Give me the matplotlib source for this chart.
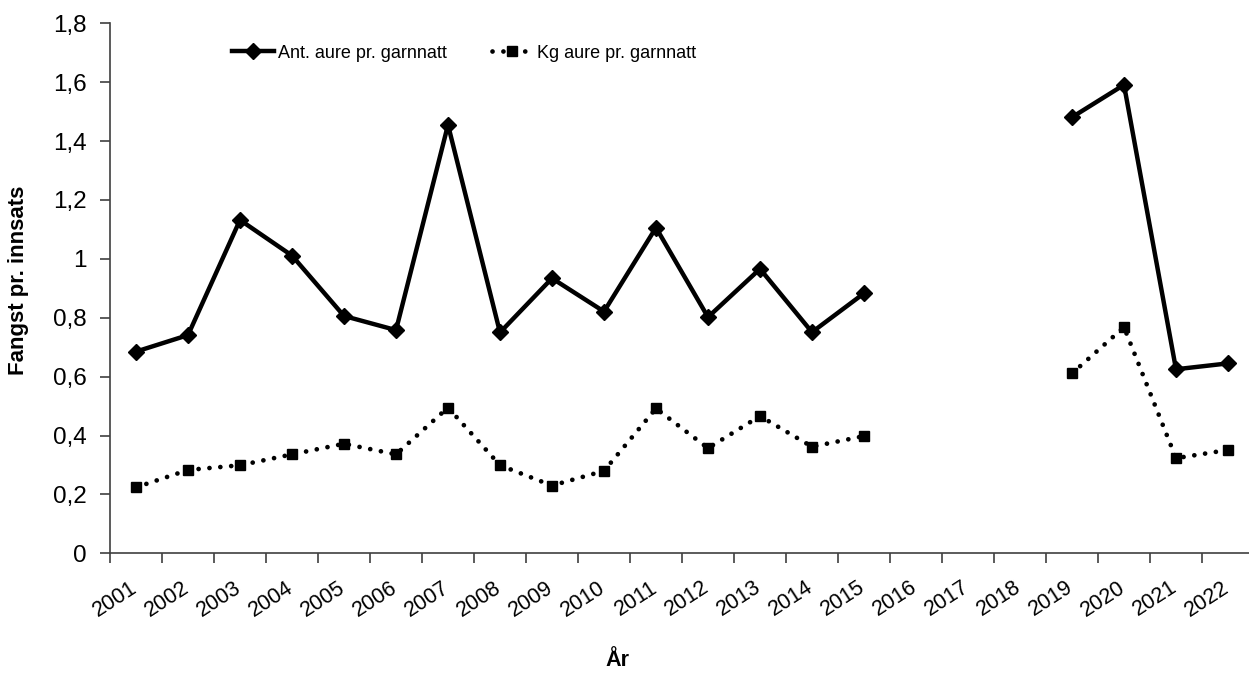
import numpy as np
import matplotlib
matplotlib.use('Agg')
import matplotlib.pyplot as plt

plt.rcParams['font.family'] = ['Liberation Sans', 'DejaVu Sans']

years = [str(y) for y in range(2001, 2023)]
ant = [0.685, 0.741, 1.132, 1.011, 0.806, 0.758, 1.455, 0.750, 0.934, 0.821, 1.106,
       0.802, 0.966, 0.751, 0.883, np.nan, np.nan, np.nan, 1.481, 1.591, 0.625, 0.645]
kg = [0.224, 0.283, 0.299, 0.336, 0.372, 0.336, 0.495, 0.299, 0.230, 0.280, 0.492,
      0.357, 0.466, 0.362, 0.398, np.nan, np.nan, np.nan, 0.611, 0.768, 0.323, 0.351]
yticks = [0, 0.2, 0.4, 0.6, 0.8, 1.0, 1.2, 1.4, 1.6, 1.8]
ytick_labels = ['0', '0,2', '0,4', '0,6', '0,8', '1', '1,2', '1,4', '1,6', '1,8']

W, H = 1249, 673
fig = plt.figure(figsize=(W / 100, H / 100), dpi=100)
ax = fig.add_axes([110 / W, (H - 553.3) / H, 1144 / W, 530 / H])

x = np.arange(len(years))
ax.plot(x, ant, color='black', lw=3.2, marker='D', markersize=8,
        label='Ant. aure pr. garnnatt')
ax.plot(x, kg, color='black', lw=3.4, linestyle=(0, (0.01, 2.3)),
        dash_capstyle='round', marker='s', markersize=7.5,
        label='Kg aure pr. garnnatt')

ax.set_xlim(-0.5, len(years) - 0.5)
ax.set_ylim(0, 1.8)
ax.set_yticks(yticks)
ax.set_yticklabels(ytick_labels, fontsize=17.5)

# boundaries get tick marks, centres (nudged a bit right) get the labels
ax.set_xticks(np.arange(len(years) + 1) - 0.5)
ax.set_xticklabels([])
ax.set_xticks(x + 0.1, minor=True)
ax.set_xticklabels(years, minor=True, fontsize=15.5, rotation=33,
                   ha='right', va='top')
ax.tick_params(axis='x', which='minor', length=0, pad=17)
ax.tick_params(axis='x', which='major', length=7, width=1.2, color='#404040')
ax.tick_params(axis='y', length=7, width=1.2, color='#404040', pad=10)

for s in ['top', 'right']:
    ax.spines[s].set_visible(False)
for s in ['left', 'bottom']:
    ax.spines[s].set_color('#404040')
    ax.spines[s].set_linewidth(1.2)

fig.text(19 / W, 1 - 280 / H, 'Fangst pr. innsats', rotation=90, fontsize=16,
         fontweight='bold', ha='center', va='center')
fig.text(617 / W, 1 - 660 / H, 'År', fontsize=15.5, fontweight='bold',
         ha='center', va='center')

ax.legend(loc='center left', bbox_to_anchor=(232 / W, 1 - 53 / H),
          bbox_transform=fig.transFigure, ncol=2, frameon=False,
          borderpad=0, borderaxespad=0,
          handlelength=2.3, handletextpad=0.22, columnspacing=2.5,
          prop={'size': 13})

fig.savefig('out.png', dpi=100)
